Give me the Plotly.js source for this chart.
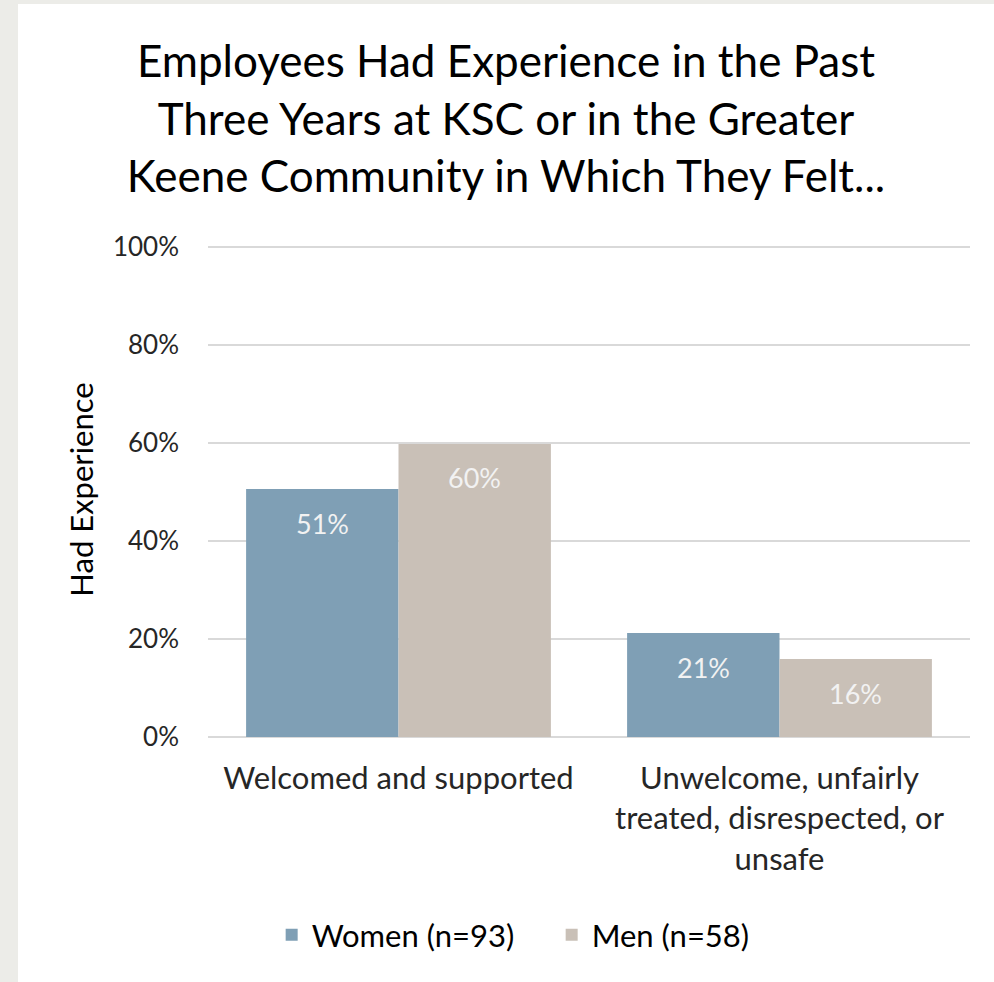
<!DOCTYPE html>
<html>
<head>
<meta charset="utf-8">
<script src="https://cdn.plot.ly/plotly-3.0.1.min.js"></script>
<style>
  html, body { margin: 0; padding: 0; background: #ecece8; width: 994px; height: 982px; overflow: hidden; }
  #chart { position: absolute; left: 18px; top: 4px; width: 976px; height: 978px; background: #ffffff; }
</style>
</head>
<body>
<div id="chart"></div>
<script>
const categories = ["Welcomed and supported", "Unwelcome, unfairly<br>treated, disrespected, or<br>unsafe"];
const seriesNames = ["Women (n=93)", "Men (n=58)"];
const women = [50.6, 21.2];
const men = [59.8, 15.9];
const womenLabels = ["51%", "21%"];
const menLabels = ["60%", "16%"];
const yTickVals = [0, 20, 40, 60, 80, 100];
const yTickText = ["0%", "20%", "40%", "60%", "80%", "100%"];

const FONT = "Lato, 'Open Sans', sans-serif";
const TXT = "#262626";

const traces = [
  { type: "bar", name: seriesNames[0], x: categories, y: women,
    marker: { color: "#7f9fb5" }, hoverinfo: "skip" },
  { type: "bar", name: seriesNames[1], x: categories, y: men,
    marker: { color: "#c9c0b7" }, hoverinfo: "skip" }
];

const annotations = [];
[[women, womenLabels, -0.2], [men, menLabels, 0.2]].forEach(([vals, labs, off]) => {
  vals.forEach((v, i) => {
    annotations.push({
      x: i + off, y: v, xref: "x", yref: "y", text: labs[i], showarrow: false,
      yanchor: "middle", yshift: -34,
      font: { family: FONT, size: 27, color: "#f2f2f2" }
    });
  });
});

const layout = {
  width: 976, height: 978,
  margin: { l: 190, r: 24, t: 238, b: 245 },
  paper_bgcolor: "#ffffff", plot_bgcolor: "#ffffff",
  font: { family: FONT, color: TXT },
  title: {
    text: "Employees Had Experience in the Past<br>Three Years at KSC or in the Greater<br>Keene Community in Which They Felt...",
    font: { family: FONT, size: 44, color: "#000000" },
    x: 0.5, xanchor: "center", y: 0.925, yanchor: "top"
  },
  barmode: "group", bargap: 0.2, bargroupgap: 0,
  xaxis: {
    type: "category", tickfont: { family: FONT, size: 31, color: TXT },
    showline: false, ticks: "", showgrid: false, fixedrange: true, ticklabelstandoff: 20
  },
  yaxis: {
    range: [0, 101], tickvals: yTickVals, ticktext: yTickText,
    tickfont: { family: FONT, size: 26, color: TXT },
    gridcolor: "#d9d9d9", gridwidth: 2, zeroline: true, zerolinecolor: "#d9d9d9", zerolinewidth: 2,
    showline: false, ticks: "", ticklabelstandoff: 28,
    title: { text: "Had Experience", font: { family: FONT, size: 31, color: "#000000" }, standoff: 10 },
    fixedrange: true
  },
  legend: {
    orientation: "h", x: 0.451, xanchor: "center", y: -0.40, yanchor: "middle",
    font: { family: FONT, size: 31, color: "#000000" }, traceorder: "normal",
    entrywidth: 235
  },
  annotations: annotations,
  showlegend: true
};

Plotly.newPlot("chart", traces, layout, { displayModeBar: false, staticPlot: true });
</script>
</body>
</html>
